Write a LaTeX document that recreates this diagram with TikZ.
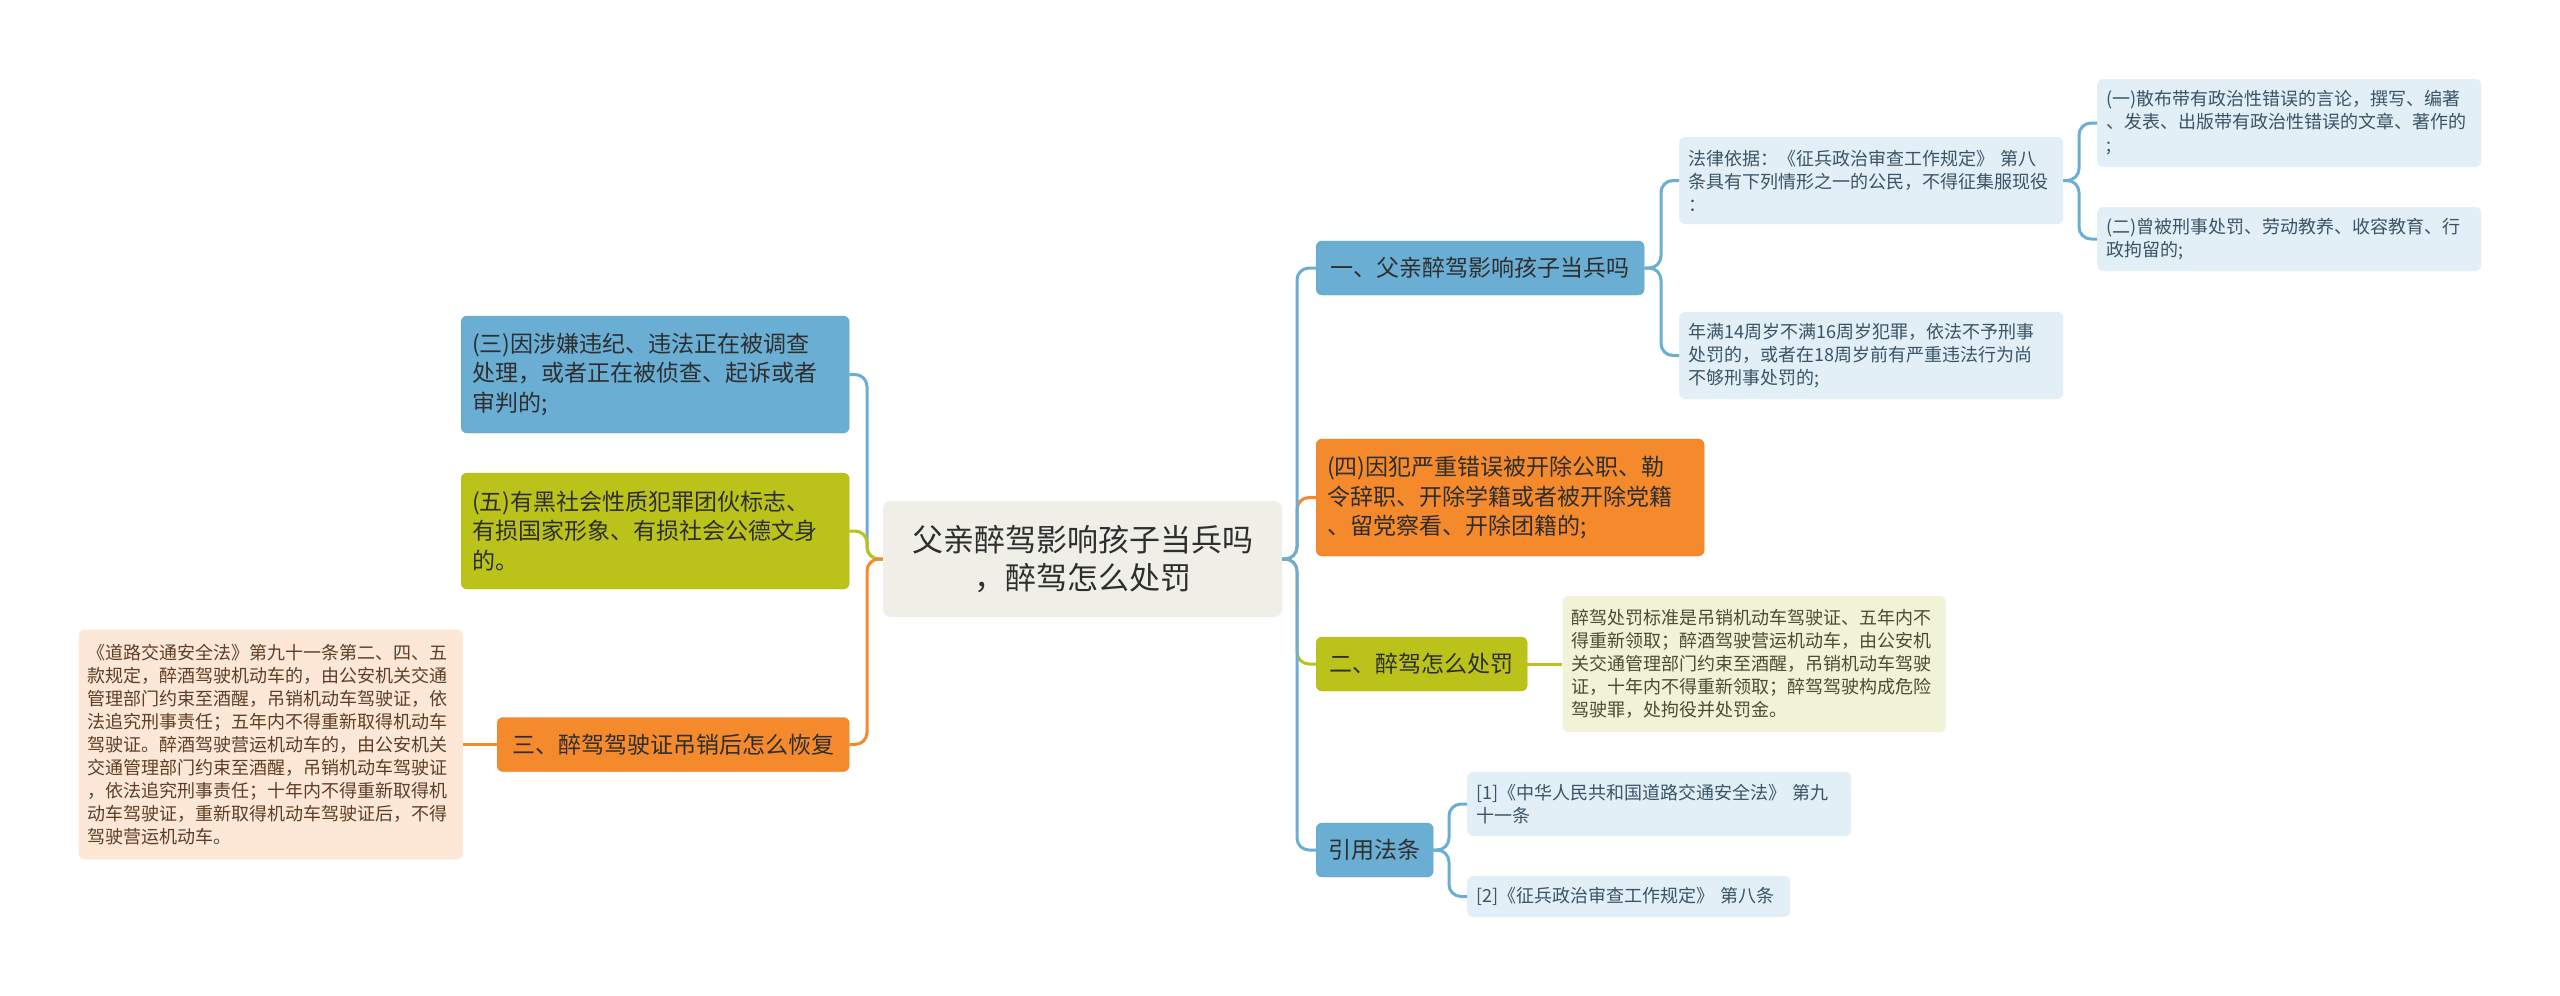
\documentclass[tikz,border=0pt]{standalone}
\usepackage{fontspec}
\setmainfont{Noto Sans CJK SC}
\usetikzlibrary{positioning}
\definecolor{mmblue}{HTML}{6AAED4}
\definecolor{mmorange}{HTML}{F58A2C}
\definecolor{mmgreen}{HTML}{BBC31B}
\definecolor{mmroot}{HTML}{EFEFE8}
\definecolor{mmpaleblue}{HTML}{E2EFF7}
\definecolor{mmpalegreen}{HTML}{F1F3D8}
\definecolor{mmpeach}{HTML}{FDE8D7}
\definecolor{mmtext}{HTML}{2E2E2E}
\definecolor{mmbluetext}{HTML}{3A5466}
\definecolor{mmgreentext}{HTML}{4C4C2E}
\definecolor{mmpeachtext}{HTML}{5E3F26}
\tikzset{
  box/.style={rectangle, rounded corners=6pt, align=left,
              inner xsep=9pt, inner ysep=3pt},
  topic/.style={box, inner xsep=11pt, minimum height=54pt, text=mmtext,
                font=\fontsize{23}{29.5}\selectfont},
  bluetopic/.style={topic, fill=mmblue, draw=mmblue!92!black},
  orangetopic/.style={topic, fill=mmorange, draw=mmorange!92!black},
  greentopic/.style={topic, fill=mmgreen, draw=mmgreen!92!black},
  note/.style={box, font=\fontsize{18}{23}\selectfont},
  bluenote/.style={note, fill=mmpaleblue, text=mmbluetext},
  greennote/.style={note, fill=mmpalegreen, text=mmgreentext},
  peachnote/.style={note, fill=mmpeach, text=mmpeachtext},
}
\begin{document}
\begin{tikzpicture}[
  x=1pt, y=-1pt,
  rootbox/.style={rectangle, rounded corners=8pt, fill=mmroot, align=center,
                  text=mmtext, font=\fontsize{31}{38}\selectfont},
  link/.style={line width=3pt, rounded corners=12pt},
  bluelink/.style={link, draw=mmblue},
  orangelink/.style={link, draw=mmorange},
  greenlink/.style={link, draw=mmgreen}
]
  \fill[white] (0,0) rectangle (2560,996);

  \node[rootbox, minimum width=399pt, minimum height=116pt] (root) at (1082.5,559)
    {父亲醉驾影响孩子当兵吗\\，醉驾怎么处罚};

  \node[bluetopic, anchor=west, text width=366pt, minimum height=117pt] (itemthree) at (461,374.5)
    {(三)因涉嫌违纪、违法正在被调查\\处理，或者正在被侦查、起诉或者\\审判的;};
  \node[greentopic, anchor=west, text width=366pt, minimum height=116pt] (itemfive) at (461,531)
    {(五)有黑社会性质犯罪团伙标志、\\有损国家形象、有损社会公德文身\\的。};
  \node[orangetopic, anchor=west, minimum width=352pt] (restore) at (497,744.5)
    {三、醉驾驾驶证吊销后怎么恢复};
  \node[peachnote, left=34pt of restore, text width=366pt, minimum height=230pt] (restorenote)
    {《道路交通安全法》第九十一条第二、四、五\\款规定，醉酒驾驶机动车的，由公安机关交通\\管理部门约束至酒醒，吊销机动车驾驶证，依\\法追究刑事责任；五年内不得重新取得机动车\\驾驶证。醉酒驾驶营运机动车的，由公安机关\\交通管理部门约束至酒醒，吊销机动车驾驶证\\，依法追究刑事责任；十年内不得重新取得机\\动车驾驶证，重新取得机动车驾驶证后，不得\\驾驶营运机动车。};

  \node[bluetopic, anchor=west, minimum width=328pt] (soldier) at (1316,268)
    {一、父亲醉驾影响孩子当兵吗};
  \node[bluenote, anchor=west, text width=366pt, minimum height=87pt] (basis) at (1679,180.5)
    {法律依据：《征兵政治审查工作规定》 第八\\条具有下列情形之一的公民，不得征集服现役\\：};
  \node[bluenote, anchor=west, text width=366pt, minimum height=88pt] (itemone) at (2097,123)
    {(一)散布带有政治性错误的言论，撰写、编著\\、发表、出版带有政治性错误的文章、著作的\\;};
  \node[bluenote, anchor=west, text width=366pt, minimum height=64pt] (itemtwo) at (2097,239)
    {(二)曾被刑事处罚、劳动教养、收容教育、行\\政拘留的;};
  \node[bluenote, anchor=west, text width=366pt, minimum height=87pt] (minor) at (1679,355.5)
    {年满14周岁不满16周岁犯罪，依法不予刑事\\处罚的，或者在18周岁前有严重违法行为尚\\不够刑事处罚的;};
  \node[orangetopic, anchor=west, text width=366pt, minimum height=117pt] (itemfour) at (1316,497.5)
    {(四)因犯严重错误被开除公职、勒\\令辞职、开除学籍或者被开除党籍\\、留党察看、开除团籍的;};
  \node[greentopic, anchor=west, minimum width=211pt] (penalty) at (1316,664)
    {二、醉驾怎么处罚};
  \node[greennote, right=35pt of penalty, text width=365pt, minimum height=136pt] (penaltynote)
    {醉驾处罚标准是吊销机动车驾驶证、五年内不\\得重新领取；醉酒驾驶营运机动车，由公安机\\关交通管理部门约束至酒醒，吊销机动车驾驶\\证，十年内不得重新领取；醉驾驾驶构成危险\\驾驶罪，处拘役并处罚金。};
  \node[bluetopic, anchor=west, minimum width=117pt] (laws) at (1316,850)
    {引用法条};
  \node[bluenote, anchor=west, text width=366pt, minimum height=64pt] (lawone) at (1467,804)
    {[1]《中华人民共和国道路交通安全法》 第九\\十一条};
  \node[bluenote, anchor=west, text width=305pt, minimum height=41pt] (lawtwo) at (1467,896.5)
    {[2]《征兵政治审查工作规定》 第八条};

  \coordinate (lj) at (867,559);
  \coordinate (rj) at (1297,559);
  \coordinate (soldierj) at (1661,268);
  \coordinate (basisj) at (2079,180.5);
  \coordinate (lawsj) at (1449,850);

  \draw[bluelink] (root.west) -- (lj) |- (itemthree.east);
  \draw[greenlink] (root.west) -- (lj) |- (itemfive.east);
  \draw[orangelink] (root.west) -- (lj) |- (restore.east);
  \draw[orangelink] (restore.west) -- (restorenote.east);

  \draw[orangelink] (root.east) -- (rj) |- (itemfour.west);
  \draw[greenlink] (root.east) -- (rj) |- (penalty.west);
  \draw[greenlink] (penalty.east) -- (penaltynote.west);
  \draw[bluelink] (root.east) -- (rj) |- (soldier.west);
  \draw[bluelink] (root.east) -- (rj) |- (laws.west);

  \draw[bluelink] (soldier.east) -- (soldierj) |- (basis.west);
  \draw[bluelink] (soldier.east) -- (soldierj) |- (minor.west);
  \draw[bluelink] (basis.east) -- (basisj) |- (itemone.west);
  \draw[bluelink] (basis.east) -- (basisj) |- (itemtwo.west);
  \draw[bluelink] (laws.east) -- (lawsj) |- (lawone.west);
  \draw[bluelink] (laws.east) -- (lawsj) |- (lawtwo.west);
\end{tikzpicture}
\end{document}
